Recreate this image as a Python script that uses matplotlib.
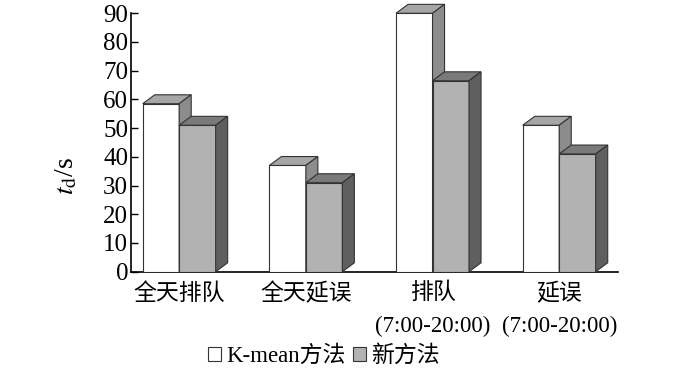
import numpy as np
import matplotlib
matplotlib.use('Agg')
import matplotlib.pyplot as plt
from matplotlib.patches import Polygon, Patch
from matplotlib.transforms import ScaledTranslation

plt.rcParams['font.family'] = ['Liberation Serif', 'Noto Sans CJK SC']
plt.rcParams['mathtext.fontset'] = 'stix'

# data
categories = ['全天排队', '全天延误', '排队\n(7:00-20:00)', '延误\n(7:00-20:00)']
kmean_vals = [58.5, 37, 90, 51]
new_vals = [51, 31, 66.5, 41]
series_names = ['K-mean方法', '新方法']

# styles: (front, top, side) face colours
kmean_faces = ('#ffffff', '#a6a6a6', '#8c8c8c')
new_faces = ('#b2b2b2', '#7a7a7a', '#5f5f5f')
label_shift_px = [-3, -17, -24, -18]

width = 0.288
dx, dy = 0.095, 3.1   # fake 3d depth in data units

fig = plt.figure(figsize=(7, 3.71), dpi=100)
ax = fig.add_axes([0.187, 0.2677, 0.696, 0.6966])
x = np.arange(len(categories))


def bar3d(ax, left, h, faces):
    front, top, side = faces
    ax.bar(left, h, width, align='edge', color=front, edgecolor='#333333', lw=0.8, zorder=3)
    r = left + width
    ax.add_patch(Polygon([(left, h), (r, h), (r + dx, h + dy), (left + dx, h + dy)],
                         closed=True, fc=top, ec='#333333', lw=0.8, zorder=3, clip_on=False))
    ax.add_patch(Polygon([(r, 0), (r + dx, dy), (r + dx, h + dy), (r, h)],
                         closed=True, fc=side, ec='#333333', lw=0.8, zorder=3, clip_on=False))


for i in range(len(categories)):
    bar3d(ax, x[i] - width, kmean_vals[i], kmean_faces)
    bar3d(ax, x[i], new_vals[i], new_faces)

ax.set_xlim(-0.381, 3.465)
ax.set_ylim(0, 90)
ax.set_yticks(np.arange(0, 91, 10))
ax.set_xticks(x)
ax.set_xticklabels(categories, fontsize=16.5, linespacing=1.7)
for lab, s in zip(ax.get_xticklabels(), label_shift_px):
    lab.set_transform(lab.get_transform() + ScaledTranslation(s / 100, 0, fig.dpi_scale_trans))
ax.tick_params(axis='y', direction='in', length=5, labelsize=18, width=1, pad=2)
ax.tick_params(axis='x', length=0, pad=8)
for sp in ['top', 'right']:
    ax.spines[sp].set_visible(False)
ax.spines['left'].set_linewidth(1.2)
ax.spines['bottom'].set_linewidth(1.2)

ax.set_ylabel(r'$\mathit{t}_{\mathrm{d}}$/s', fontsize=20)
ax.yaxis.set_label_coords(-0.105, 0.37)

handles = [Patch(fc=kmean_faces[0], ec='#333333', lw=0.8),
           Patch(fc=new_faces[0], ec='#333333', lw=0.8)]
fig.legend(handles, series_names, loc='lower center', bbox_to_anchor=(0.463, -0.045),
           ncol=2, frameon=False, fontsize=16.5, handlelength=0.55, handleheight=0.55,
           handletextpad=0.25, columnspacing=0.3)

fig.savefig('out.png', dpi=100)
